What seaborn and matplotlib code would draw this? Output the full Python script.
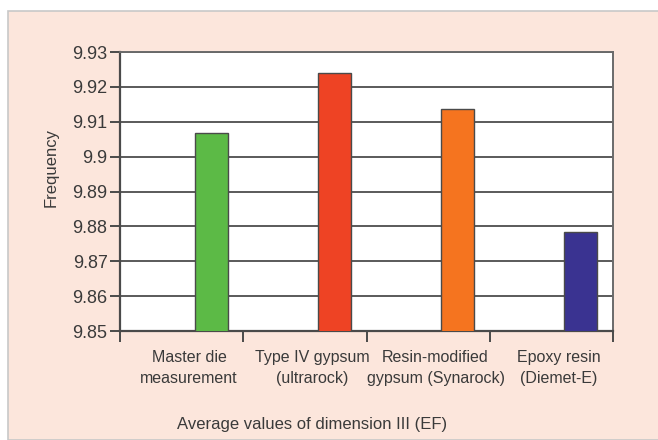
import numpy as np
import pandas as pd
import matplotlib
matplotlib.use("Agg")
import matplotlib.pyplot as plt
import seaborn as sns
from matplotlib.patches import Rectangle

# values
categories = ["Master die\nmeasurement", "Type IV gypsum\n(ultrarock)",
              "Resin-modified\ngypsum (Synarock)", "Epoxy resin\n(Diemet-E)"]
values = [9.9067, 9.9241, 9.9137, 9.8783]
bar_colors = ["#5cba46", "#ee4324", "#f5741f", "#3a3391"]
y_ticks = [9.85, 9.86, 9.87, 9.88, 9.89, 9.90, 9.91, 9.92, 9.93]

sns.set_style("white")
plt.rcParams["font.family"] = ["Liberation Sans", "DejaVu Sans"]
text_color = "#3a3a3a"

fig = plt.figure(figsize=(6.58, 4.4), dpi=100)
fig.patch.set_facecolor("white")
# peach panel behind the chart
fig.patches.append(Rectangle((8 / 658, 0), 1, 1 - 11 / 440, transform=fig.transFigure,
                             facecolor="#fce6dc", edgecolor="#c8c8c8", linewidth=1.2,
                             zorder=-10))

ax = fig.add_axes([120 / 658, 1 - 331 / 440, 493 / 658, 279 / 440])
ax.set_facecolor("white")

pos = np.arange(len(categories))
df = pd.DataFrame({"pos": pos + 0.24, "value": values, "cat": categories})
sns.barplot(data=df, x="pos", y="value", hue="cat", palette=bar_colors, saturation=1,
            native_scale=True, width=0.268, edgecolor="#4a4a4a", linewidth=1.0,
            legend=False, ax=ax, zorder=3)

ax.set_xlim(-0.5, len(categories) - 0.5)
ax.set_ylim(y_ticks[0], y_ticks[-1])
ax.set_yticks(y_ticks)
ax.set_yticklabels([f"{t:g}" for t in y_ticks])
ax.yaxis.grid(True, color="#5a5a5a", linewidth=1.4, zorder=0)
ax.set_axisbelow(True)

# ticks between categories, labels under category centres
ax.set_xticks(np.arange(len(categories) + 1) - 0.5)
ax.set_xticklabels([])
ax.set_xticks(pos + 0.06, minor=True)
ax.set_xticklabels(categories, minor=True, fontsize=11.5, color=text_color,
                   linespacing=1.45)
ax.tick_params(axis="x", which="major", direction="out", length=8, width=1.4,
               color="#4a4a4a", bottom=True)
ax.tick_params(axis="x", which="minor", length=0, pad=14)
ax.tick_params(axis="y", direction="out", length=7, width=1.4, color="#4a4a4a",
               left=True, labelsize=13, labelcolor=text_color, pad=2)

for side in ["top", "right"]:
    ax.spines[side].set_color("#6a6a6a")
    ax.spines[side].set_linewidth(1.4)
for side in ["left", "bottom"]:
    ax.spines[side].set_color("#4a4a4a")
    ax.spines[side].set_linewidth(1.6)

ax.set_ylabel("Frequency", fontsize=12, color=text_color)
ax.yaxis.set_label_coords(-0.125, 0.587)
ax.set_xlabel("Average values of dimension III (EF)", fontsize=12, color=text_color)
ax.xaxis.set_label_coords(0.389, -0.31)

fig.savefig("out.png", dpi=100)
